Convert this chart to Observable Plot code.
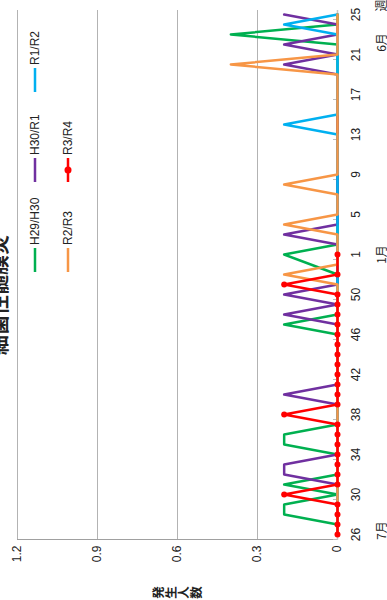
<!DOCTYPE html>
<html>
<head>
<meta charset="utf-8">
<script src="https://cdn.jsdelivr.net/npm/d3@7"></script>
<script src="https://cdn.jsdelivr.net/npm/@observablehq/plot@0.6"></script>
<style>
  html, body { margin: 0; padding: 0; background: #fff; overflow: hidden; }
  body { width: 387px; height: 600px; position: relative; }
  #wrap { position: absolute; left: 0; top: 600px; width: 600px; height: 387px;
          transform-origin: 0 0; transform: rotate(-90deg); background: #fff; overflow: hidden;
          font-family: 'Liberation Sans', Arial, 'Noto Sans CJK JP', sans-serif; color: #222; }
  #title { position: absolute; left: 245px; top: -11px; font: bold 20px/20px 'Noto Sans CJK JP', sans-serif; white-space: nowrap; }
  #ylabel { position: absolute; left: 1px; top: 152px; writing-mode: vertical-rl; font: bold 12.5px/13px 'Noto Sans CJK JP', sans-serif; }
  .leg { position: absolute; display: flex; align-items: center; font-size: 12px; height: 14px; white-space: nowrap; }
  .leg svg { margin-right: 3px; }
  #chart { position: absolute; left: 0; top: 0; }
</style>
</head>
<body>
<div id="wrap">
  <div id="chart"></div>
  <div id="title"></div>
  <div id="ylabel"></div>
</div>
<script>
// Week categories (July → June, with week 53)
const weeks = ["26","27","28","29","30","31","32","33","34","35","36","37","38","39","40","41","42","43","44","45","46","47","48","49","50","51","52","53",
               "1","2","3","4","5","6","7","8","9","10","11","12","13","14","15","16","17","18","19","20","21","22","23","24","25"];
const xTicks = ["26","30","34","38","42","46","50","1","5","9","13","17","21","25"];
const yTicks = [0, 0.3, 0.6, 0.9, 1.2];
const yTickLabels = ["0", "0.3", "0.6", "0.9", "1.2"];
const monthLabels = ["7月", "1月", "6月"];
const monthWeeks = ["26", "1", "22"];
const xTitle = "週";
const yTitle = "発生人数";
const titleText = "細菌性髄膜炎";

const seriesNames = ["H29/H30", "H30/R1", "R1/R2", "R2/R3", "R3/R4"];
const seriesColors = ["#00b050", "#7030a0", "#00b0f0", "#f79646", "#ff0000"];

// values per week: weeks 26-35 | 36-45 | 46-53 | 1-10 | 11-20 | 21-25  (null = no such week / no data)
const h29h30 = [
  0,0,0.2,0.2,0,0.2,0,0,0,0.2,
  0.2,0,0,0,0,0,0,0,0,0,
  0,0.2,0,0,0,0,0,null,
  0.2,0,0,0,0,0,0,0,0,0,
  0,0,0,0,0,0,0,0,0,0,
  0,0,0.4,0,0];
const h30r1 = [
  0,0,0,0,0,0,0.2,0.2,0,0,
  0,0,0,0,0.2,0,0,0,0,0,
  0,0,0.2,0,0.2,0,0,null,
  0,0,0.2,0,0,0,0,0,0,0,
  0,0,0,0,0,0,0,0,0,0.2,
  0,0.2,0,0,0.2];
const r1r2 = [
  0,0,0,0,0,0,0,0,0,0,
  0,0,0,0,0,0,0,0,0,0,
  0,0,0,0,0,0,0,null,
  0,0,0,0,0,0,0,0,0,0,
  0,0,0,0.2,0,0,0,0,0,0,
  0,0,0,0.2,0];
const r2r3 = [
  0,0,0,0,0,0,0,0,0,0,
  0,0,0,0,0,0,0,0,0,0,
  0,0,0,0,0,0,0.2,0,
  0,0,0,0.2,0,0,0,0.2,0,0,
  0,0,0,0,0,0,0,0,0,0.4,
  0,0,0,0,0];
const r3r4 = [
  0,0,0,0,0.2,0,0,0,0,0,
  0,0,0.2,0,0,0,0,0,0,0,
  0,0,0,0,0,0.2,0,null,
  0,null,null,null,null,null,null,null,null,null,
  null,null,null,null,null,null,null,null,null,null,
  null,null,null,null,null];

const seriesValues = [h29h30, h30r1, r1r2, r2r3, r3r4];
seriesValues.forEach((a, i) => { if (a.length !== weeks.length) throw new Error(seriesNames[i] + " has " + a.length + " values"); });

const rows = [];
seriesNames.forEach((s, si) => {
  weeks.forEach((w, i) => {
    const v = seriesValues[si][i];
    if (v != null) rows.push({week: w, series: s, value: v});
  });
});
const redRows = rows.filter(d => d.series === "R3/R4");

const jp = "'Noto Sans CJK JP', sans-serif";
const monthMark = (i, dx) => Plot.text([monthLabels[i]], {x: () => monthWeeks[i], y: () => 0, dy: 45, dx, fontSize: 12, fontFamily: jp, text: d => d, textAnchor: "middle"});

const plot = Plot.plot({
  width: 600,
  height: 387,
  marginTop: 17,
  marginBottom: 50,
  marginLeft: 60,
  marginRight: 10,
  style: {fontFamily: "'Liberation Sans', Arial, 'Noto Sans CJK JP', sans-serif", fontSize: "12px", color: "#222", background: "transparent"},
  x: {type: "point", domain: weeks, padding: 0.5, axis: null},
  y: {domain: [0, 1.2], axis: null},
  color: {domain: seriesNames, range: seriesColors},
  marks: [
    Plot.gridY(yTicks.filter(d => d > 0), {stroke: "#b3b3b3", strokeOpacity: 1}),
    Plot.ruleY([0], {stroke: "#c8c8c8", strokeWidth: 1.5}),
    Plot.ruleX([weeks[0]], {dx: -5, y1: 0, y2: 1.2, stroke: "#a0a0a0"}),
    Plot.ruleX(xTicks, {dx: -5, y1: 0, y2: 0.015, stroke: "#bdbdbd"}),
    Plot.line(rows, {x: "week", y: "value", z: "series", stroke: "series", strokeWidth: 2.5, curve: "linear"}),
    Plot.dot(redRows, {x: "week", y: "value", r: 3, fill: "#ff0000", stroke: "none"}),
    Plot.axisX({ticks: xTicks, tickSize: 0, tickPadding: 14, anchor: "bottom", fontSize: 12, label: null}),
    Plot.axisY({ticks: yTicks, tickFormat: d => yTickLabels[yTicks.indexOf(d)], tickSize: 0, tickPadding: 6, anchor: "left", fontSize: 12, label: null}),
    monthMark(0, 4),
    monthMark(1, 0),
    monthMark(2, 2),
    Plot.text([xTitle], {x: () => weeks[weeks.length - 1], y: () => 0, dy: 45, dx: 9, fontSize: 12, fontFamily: jp, text: d => d})
  ]
});
document.getElementById("chart").appendChild(plot);
document.getElementById("title").textContent = titleText;
document.getElementById("ylabel").textContent = yTitle;

// legend (overlaid inside the chart area)
const legendPos = [[328, 28], [418, 28], [508, 28], [328, 61], [418, 61]];
const wrap = document.getElementById("wrap");
seriesNames.forEach((s, i) => {
  const el = document.createElement("div");
  el.className = "leg";
  el.style.left = legendPos[i][0] + "px";
  el.style.top = legendPos[i][1] + "px";
  const marker = s === "R3/R4" ? `<circle cx="12" cy="7" r="3.5" fill="${seriesColors[i]}"/>` : "";
  el.innerHTML = `<svg width="24" height="14"><line x1="0" x2="24" y1="7" y2="7" stroke="${seriesColors[i]}" stroke-width="2.5"/>${marker}</svg><span>${s}</span>`;
  wrap.appendChild(el);
});
</script>
</body>
</html>
